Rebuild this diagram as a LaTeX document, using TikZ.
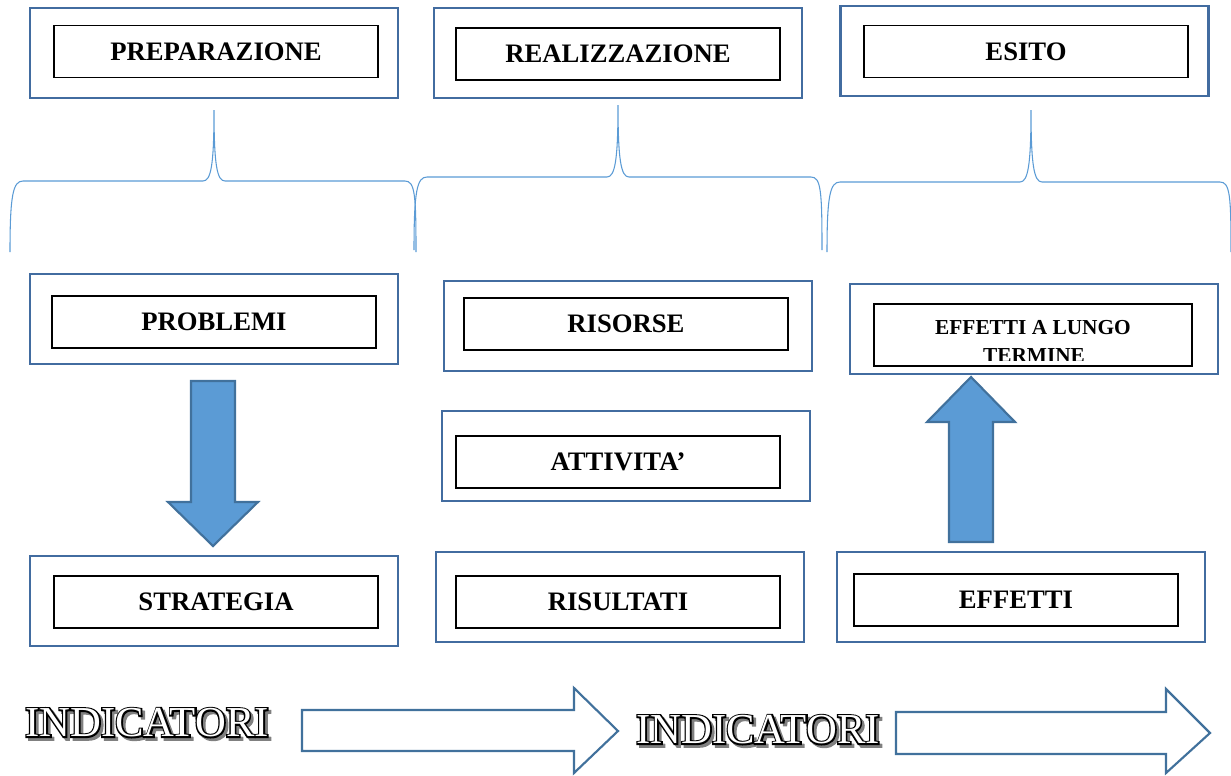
\documentclass[tikz,border=0pt]{standalone}
\usepackage{fontspec}
\setmainfont{Liberation Serif}
\newfontfamily\outlinefont[FakeBold=7]{Liberation Serif}
\usepackage{tikz}
\usetikzlibrary{positioning}
\usepackage{xcolor}
\definecolor{boxblue}{RGB}{66,108,160}
\definecolor{arrowfill}{RGB}{91,155,213}
\definecolor{arrowline}{RGB}{65,113,156}
\definecolor{bracecol}{RGB}{91,155,213}
\newcommand{\engraved}[1]{\makebox[0pt][l]{\hspace{2pt}\raisebox{-2pt}{\outlinefont\color{gray}#1}}\makebox[0pt][l]{\outlinefont\color{black}#1}{\color{white}#1}}

\begin{document}
\begin{tikzpicture}[
x=0.75pt, y=-0.75pt,
outerbox/.style={draw=boxblue, line width=2pt, minimum width=276pt, minimum height=67.5pt, inner sep=0pt},
innerbox/.style={draw=black, line width=0.8pt, minimum width=243pt, minimum height=39pt, inner sep=0pt, font=\bfseries\fontsize{20}{24}\selectfont},
blockarrow/.style={draw=arrowline, line width=1.6pt, fill=arrowfill, line join=miter},
hollowarrow/.style={draw=arrowline, line width=1.6pt, fill=white, line join=miter},
brace/.style={draw=bracecol, line width=0.8pt},
]
\useasboundingbox (0,0) rectangle (1231,775);
% top row
\node[outerbox] (prepbox) at (214,53) {};
\node[innerbox] (prep) at (216,51.5) {PREPARAZIONE};
\node[outerbox] (realbox) at (618,53) {};
\node[innerbox] (real) at (618,54) {REALIZZAZIONE};
\node[outerbox] (esitobox) at (1024.5,51) {};
\node[innerbox] (esito) at (1026,51.5) {ESITO};

% braces
\draw[brace] (10,252) .. controls (10,195) and (13,181) .. (23,181) -- (203,181)
  .. controls (211,181) and (214,165) .. (214,110)
  .. controls (214,165) and (217,181) .. (225,181) -- (405,181)
  .. controls (415,181) and (416,195) .. (416,252);
\draw[brace] (414,250) .. controls (414,191) and (417,177) .. (427,177) -- (607,177)
  .. controls (615,177) and (618,160) .. (618,105)
  .. controls (618,160) and (621,177) .. (629,177) -- (811,177)
  .. controls (821,177) and (822,191) .. (822,250);
\draw[brace] (827,252) .. controls (827,196) and (830,182) .. (840,182) -- (1020,182)
  .. controls (1028,182) and (1031,165) .. (1031,110)
  .. controls (1031,165) and (1034,182) .. (1042,182) -- (1220,182)
  .. controls (1230,182) and (1231,196) .. (1231,252);

% middle row
\node[outerbox] (probbox) at (214,319) {};
\node[innerbox] (prob) at (214,322) {PROBLEMI};
\node[outerbox] (risbox) at (628,326) {};
\node[innerbox] (ris) at (626,324) {RISORSE};
\node[outerbox] (attbox) at (626,456) {};
\node[innerbox] (att) at (618,462) {ATTIVITA’};
\node[outerbox] (eltbox) at (1034,329) {};
\node[innerbox, minimum width=238.5pt, minimum height=46.5pt] (elt) at (1033,335) {};
\begin{scope}
\clip (elt.north west) rectangle ([yshift=4.5pt]elt.south east);
\node[font=\bfseries\fontsize{16}{18}\selectfont, anchor=base, inner sep=0pt] (elt1) at (1033,334) {EFFETTI A LUNGO};
\node[font=\bfseries\fontsize{16}{18}\selectfont, anchor=base, inner sep=0pt] (elt2) at (1034,362) {TERMINE};
\end{scope}

% bottom row
\node[outerbox] (stratbox) at (214,601) {};
\node[innerbox] (strat) at (216,602) {STRATEGIA};
\node[outerbox] (risulbox) at (620,597) {};
\node[innerbox] (risul) at (618,602) {RISULTATI};
\node[outerbox] (effbox) at (1021,597) {};
\node[innerbox] (eff) at (1016,600) {EFFETTI};

% block arrows
\draw[blockarrow] (191,381) -- (235,381) -- (235,502) -- (258,502) -- (213,546) -- (168,502) -- (191,502) -- cycle;
\draw[blockarrow] (949,542) -- (949,422) -- (927,422) -- (971,377) -- (1015,422) -- (993,422) -- (993,542) -- cycle;

% indicatori
\node[font=\fontsize{32}{32}\selectfont, inner sep=0pt] (ind1) at (147,724) {\engraved{INDICATORI}};
\node[font=\fontsize{32}{32}\selectfont, inner sep=0pt] (ind2) at (758,731) {\engraved{INDICATORI}};
\draw[hollowarrow] (302,710) -- (574,710) -- (574,688) -- (618,731) -- (574,773) -- (574,751) -- (302,751) -- cycle;
\draw[hollowarrow] (896,712) -- (1166,712) -- (1166,689) -- (1210,733) -- (1166,773) -- (1166,754) -- (896,754) -- cycle;
\end{tikzpicture}
\end{document}
